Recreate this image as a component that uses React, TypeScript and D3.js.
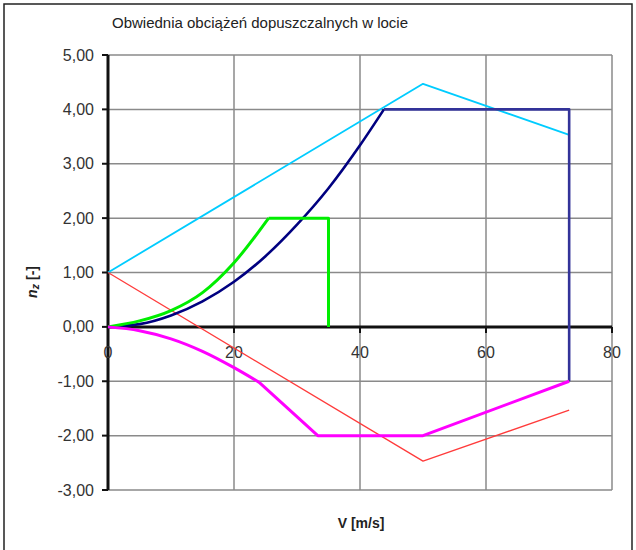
import * as d3 from "d3";

// gust lines (positive / negative)
const vGust = [0, 50, 73.2];
const nGustPos = [1, 4.47, 3.53];
const nGustNeg = [1, -2.47, -1.53];

// manoeuvre envelope, positive side
const vManCurve = [0, 5, 10, 15, 20, 25, 30, 35, 40, 43.8];
const nManCurve = [0, 0.05, 0.21, 0.47, 0.83, 1.3, 1.88, 2.55, 3.34, 4.0];
const vManLimit = [43.8, 73.2, 73.2];
const nManLimit = [4, 4, -1];

// flaps envelope
const vFlapsCurve = [0, 5, 10, 15, 20, 25.5];
const nFlapsCurve = [0, 0.11, 0.3, 0.63, 1.18, 2.0];
const vFlapsLimit = [25.5, 35, 35];
const nFlapsLimit = [2, 2, 0];

// negative side
const vNegCurve = [0, 5, 10, 15, 20, 24];
const nNegCurve = [0, -0.07, -0.22, -0.45, -0.75, -1.02];
const vNegLimit = [24, 33.3, 50, 73.2];
const nNegLimit = [-1.02, -2, -2, -1];

const xTicks = [0, 20, 40, 60, 80];
const yTicks = [-3, -2, -1, 0, 1, 2, 3, 4, 5];

const W = 636;
const H = 550;
const FONT = "'Liberation Sans', Arial, sans-serif";

export default function App() {
  const x = d3.scaleLinear().domain([0, 80]).range([108, 612]);
  const y = d3.scaleLinear().domain([-3, 5]).range([490, 55]);

  const zip = (vs: number[], ns: number[]) => vs.map((v, i) => [v, ns[i]] as [number, number]);
  const lin = d3.line<[number, number]>().x(d => x(d[0])).y(d => y(d[1]));
  const smooth = d3.line<[number, number]>().x(d => x(d[0])).y(d => y(d[1])).curve(d3.curveMonotoneX);

  const series = [
    { d: lin(zip(vGust, nGustPos)), color: "#00ccff", w: 1.8 },
    { d: lin(zip(vGust, nGustNeg)), color: "#ff3b3b", w: 1.3 },
    { d: smooth(zip(vManCurve, nManCurve)), color: "#000080", w: 2.6 },
    { d: lin(zip(vManLimit, nManLimit)), color: "#333399", w: 2.6 },
    { d: smooth(zip(vFlapsCurve, nFlapsCurve)) + "" + lin(zip(vFlapsLimit, nFlapsLimit)), color: "#00ee00", w: 3 },
    { d: smooth(zip(vNegCurve, nNegCurve)) + "" + lin(zip(vNegLimit, nNegLimit)), color: "#ff00ff", w: 3 },
  ];

  return (
    <svg width={W} height={H} style={{ position: "absolute", left: 0, top: 0, background: "#fff" }} fontFamily={FONT}>
      <rect x={4} y={4} width={628} height={570} fill="#fff" stroke="#222" strokeWidth={1.5} />
      <text x={260} y={28} textAnchor="middle" fontSize={15} fill="#222">
        Obwiednia obciążeń dopuszczalnych w locie
      </text>

      {/* grid */}
      {yTicks.map(t => (
        <line key={"gy" + t} x1={x(0)} x2={x(80)} y1={y(t)} y2={y(t)} stroke="#8a8a8a" strokeWidth={1.5} />
      ))}
      {xTicks.filter(t => t > 0).map(t => (
        <line key={"gx" + t} x1={x(t)} x2={x(t)} y1={y(5)} y2={y(-3)} stroke="#8a8a8a" strokeWidth={1.5} />
      ))}

      {/* axes */}
      <line x1={x(0)} x2={x(80)} y1={y(0)} y2={y(0)} stroke="#111" strokeWidth={3} />
      <line x1={x(0)} x2={x(0)} y1={y(5)} y2={y(-3)} stroke="#111" strokeWidth={3} />
      {yTicks.map(t => (
        <g key={"ty" + t}>
          <line x1={x(0) - 6} x2={x(0)} y1={y(t)} y2={y(t)} stroke="#111" strokeWidth={2} />
          <text x={94} y={y(t)} dy="0.35em" textAnchor="end" fontSize={16} fill="#333">
            {d3.format(".2f")(t).replace(".", ",").replace("−", "-")}
          </text>
        </g>
      ))}
      {xTicks.map(t => (
        <g key={"tx" + t}>
          <line x1={x(t)} x2={x(t)} y1={y(0)} y2={y(0) + 6} stroke="#111" strokeWidth={2} />
          <text x={x(t)} y={358} textAnchor="middle" fontSize={16} fill="#333">
            {t}
          </text>
        </g>
      ))}

      {/* series */}
      {series.map((s, i) => (
        <path key={i} d={s.d || ""} fill="none" stroke={s.color} strokeWidth={s.w} strokeLinejoin="round" />
      ))}

      {/* axis titles */}
      <text x={361} y={528} textAnchor="middle" fontSize={14} fontWeight="bold" fill="#222">
        V [m/s]
      </text>
      <text transform="translate(37,282) rotate(-90)" textAnchor="middle" fontSize={14} fontWeight="bold" fill="#222">
        <tspan fontStyle="italic">n</tspan>
        <tspan fontStyle="italic" fontSize={11} dy={2}>z</tspan>
        <tspan dy={-2}> [-]</tspan>
      </text>
    </svg>
  );
}
